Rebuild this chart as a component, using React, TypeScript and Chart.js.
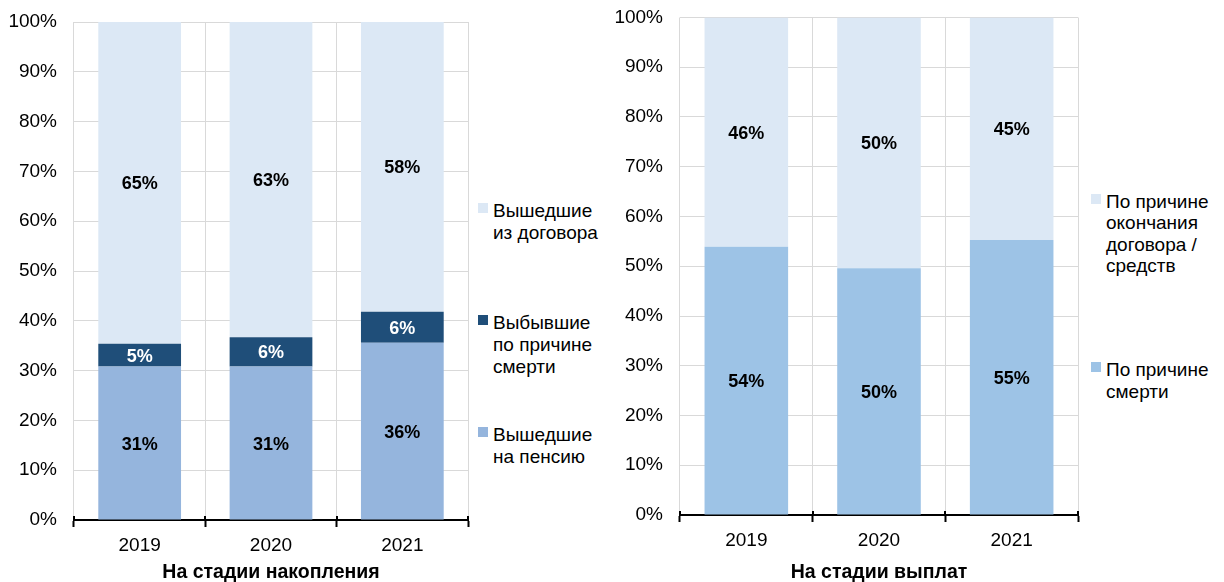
import React, { useEffect, useRef } from "react";
import { Chart, registerables } from "chart.js";

Chart.register(...registerables);

const FONT = "'Liberation Sans', Arial, sans-serif";

const years = ["2019", "2020", "2021"];
const yTicks = [0, 10, 20, 30, 40, 50, 60, 70, 80, 90, 100];

// Left chart: На стадии накопления
const accRetired = [30.8, 30.8, 35.6];
const accDeath = [4.6, 5.9, 6.2];
const accContract = [64.6, 63.3, 58.2];
const accTitle = "На стадии накопления";

// Right chart: На стадии выплат
const payDeath = [53.9, 49.6, 55.3];
const payContract = [46.1, 50.4, 44.7];
const payTitle = "На стадии выплат";

const LIGHT = "#DCE8F5";
const DARK = "#1F4E79";
const MID_L = "#95B5DD";
const MID_R = "#9DC3E6";
const GRID = "#D9D9D9";

const labelsPlugin = {
  id: "segLabels",
  afterDatasetsDraw(chart: any) {
    const ctx = chart.ctx;
    ctx.save();
    ctx.font = `bold 18px ${FONT}`;
    ctx.textAlign = "center";
    ctx.textBaseline = "middle";
    chart.data.datasets.forEach((ds: any, di: number) => {
      const meta = chart.getDatasetMeta(di);
      meta.data.forEach((el: any, i: number) => {
        const v = ds.data[i];
        ctx.fillStyle = ds.labelColor || "#000";
        ctx.fillText(Math.round(v) + "%", el.x, (el.y + el.base) / 2 + 1.5);
      });
    });
    ctx.restore();
  },
};

const tickPlugin = {
  id: "crossTicks",
  afterDraw(chart: any) {
    const x = chart.scales.x;
    const ctx = chart.ctx;
    const n = x.ticks.length;
    const half = (x.getPixelForValue(1) - x.getPixelForValue(0)) / 2;
    ctx.save();
    ctx.strokeStyle = "#000";
    ctx.lineWidth = 2;
    for (let i = 0; i <= n; i++) {
      const px = Math.round(x.getPixelForValue(0) - half + i * half * 2);
      ctx.beginPath();
      ctx.moveTo(px, x.top - 4);
      ctx.lineTo(px, x.top + 1);
      ctx.stroke();
    }
    ctx.restore();
  },
};

function makeOptions(title: string, padTop: number, xHeight: number) {
  return {
    animation: false,
    responsive: false,
    layout: { padding: { top: padTop, right: 2, left: 0, bottom: 0 } },
    plugins: { legend: { display: false }, tooltip: { enabled: false } },
    datasets: { bar: { categoryPercentage: 1, barPercentage: 0.63 } },
    scales: {
      x: {
        stacked: true,
        grid: {
          color: GRID,
          lineWidth: 1,
          tickColor: "#000",
          tickLength: 7,
          tickWidth: 2,
          offset: true,
        },
        border: { color: "#000", width: 2 },
        ticks: { color: "#000", font: { size: 19, family: FONT }, padding: 7 },
        title: {
          display: true,
          text: title,
          color: "#000",
          font: { size: 19.5, weight: "bold", family: FONT, lineHeight: 1 },
          padding: { top: 0, bottom: 0 },
        },
        afterFit(s: any) {
          s.height = xHeight;
        },
      },
      y: {
        stacked: true,
        min: 0,
        max: 100,
        grid: { color: GRID, drawTicks: true, tickLength: 17, tickColor: "rgba(0,0,0,0)" },
        border: { display: false },
        afterBuildTicks(s: any) {
          s.ticks = yTicks.map((v) => ({ value: v }));
        },
        ticks: {
          color: "#000",
          font: { size: 19, family: FONT },
          padding: 0,
          callback: (v: any) => v + "%",
        },
        afterFit(s: any) {
          s.width = 74;
        },
      },
    },
  };
}

function ChartBox(props: { config: any; style: React.CSSProperties; w: number; h: number }) {
  const ref = useRef<HTMLCanvasElement>(null);
  useEffect(() => {
    const c = new Chart(ref.current as HTMLCanvasElement, props.config);
    return () => c.destroy();
  }, []);
  return (
    <div style={{ position: "absolute", ...props.style, width: props.w, height: props.h }}>
      <canvas ref={ref} width={props.w} height={props.h} style={{ width: props.w, height: props.h }} />
    </div>
  );
}

const legendText: React.CSSProperties = {
  fontFamily: FONT,
  fontSize: 19,
  color: "#000",
};

function LegendItem(props: { color: string; lines: string[]; left: number; top: number; lh: number }) {
  return (
    <div style={{ position: "absolute", left: props.left, top: props.top, display: "flex", alignItems: "flex-start" }}>
      <div style={{ width: 10, height: 10, background: props.color, marginTop: 3, marginRight: 5, flex: "none" }} />
      <div style={{ ...legendText, lineHeight: props.lh + "px", whiteSpace: "nowrap" }}>
        {props.lines.map((l, i) => (
          <div key={i}>{l}</div>
        ))}
      </div>
    </div>
  );
}

export default function App() {
  useEffect(() => {
    document.body.style.margin = "0";
  }, []);

  const leftConfig = {
    type: "bar",
    data: {
      labels: years,
      datasets: [
        { label: "Вышедшие на пенсию", data: accRetired, backgroundColor: MID_L, labelColor: "#000" },
        { label: "Выбывшие по причине смерти", data: accDeath, backgroundColor: DARK, labelColor: "#fff" },
        { label: "Вышедшие из договора", data: accContract, backgroundColor: LIGHT, labelColor: "#000" },
      ],
    },
    options: makeOptions(accTitle, 22, 62),
    plugins: [labelsPlugin, tickPlugin],
  };

  const rightConfig = {
    type: "bar",
    data: {
      labels: years,
      datasets: [
        { label: "По причине смерти", data: payDeath, backgroundColor: MID_R, labelColor: "#000" },
        { label: "По причине окончания договора / средств", data: payContract, backgroundColor: LIGHT, labelColor: "#000" },
      ],
    },
    options: makeOptions(payTitle, 17.5, 67),
    plugins: [labelsPlugin, tickPlugin],
  };

  return (
    <div style={{ position: "relative", width: 1224, height: 582, background: "#fff", overflow: "hidden" }}>
      <ChartBox config={leftConfig} style={{ left: 0, top: 0 }} w={470} h={582} />
      <ChartBox config={rightConfig} style={{ left: 606, top: 0 }} w={474} h={582} />
      <LegendItem color={LIGHT} lines={["Вышедшие", "из договора"]} left={478} top={200} lh={22} />
      <LegendItem color={DARK} lines={["Выбывшие", "по причине", "смерти"]} left={478} top={312} lh={22} />
      <LegendItem color={MID_L} lines={["Вышедшие", "на пенсию"]} left={478} top={424} lh={22} />
      <LegendItem color={LIGHT} lines={["По причине", "окончания", "договора /", "средств"]} left={1091} top={191} lh={21.3} />
      <LegendItem color={MID_R} lines={["По причине", "смерти"]} left={1091} top={359} lh={22} />
    </div>
  );
}
